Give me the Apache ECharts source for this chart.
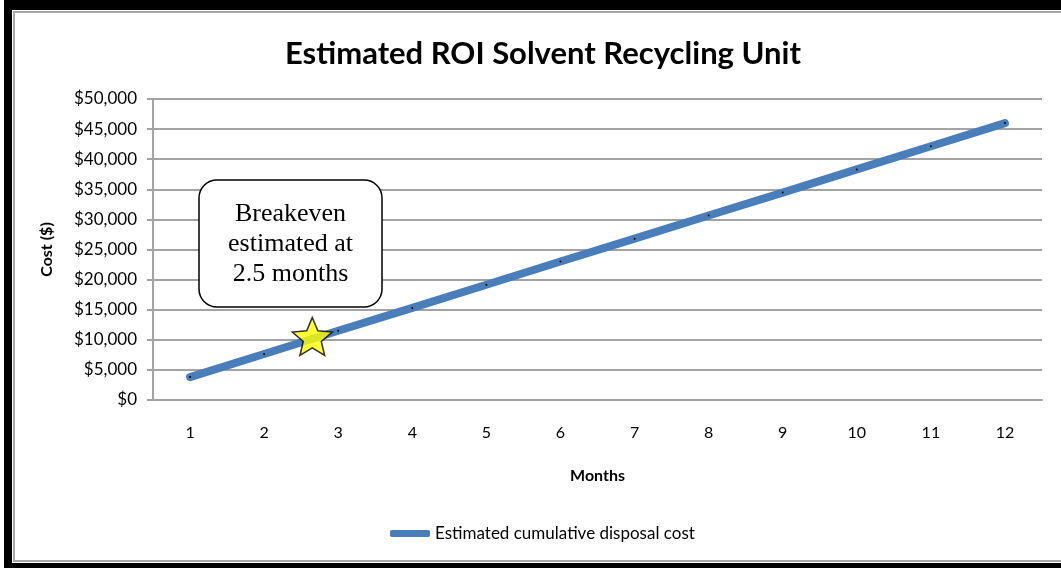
<!DOCTYPE html>
<html>
<head>
<meta charset="utf-8">
<script src="https://cdn.jsdelivr.net/npm/echarts@6/dist/echarts.min.js"></script>
<style>
html,body{margin:0;padding:0;background:#fff;}
#main{width:1061px;height:568px;}
</style>
</head>
<body>
<div id="main"></div>
<script>
// 月份和累计费用
var months = ['1','2','3','4','5','6','7','8','9','10','11','12'];
var costValues = [3800, 7650, 11500, 15300, 19150, 23000, 26800, 30650, 34450, 38300, 42150, 46000];
var yTicks = [0, 5000, 10000, 15000, 20000, 25000, 30000, 35000, 40000, 45000, 50000];
// 盈亏平衡点（月份位置, 金额）
var breakevenPoint = [2.65, 10550];
var noteLines = ['Breakeven', 'estimated at', '2.5 months'];

var starPath = 'path://M100,0 L126.5,63.6 L195.1,69.1 L142.8,113.9 L158.8,180.9 L100,145 L41.2,180.9 L57.2,113.9 L4.9,69.1 L73.5,63.6 Z';
var gridGray = '#a3a3a3';
var sans = 'Lato';

/*格式化金额*/
function fmoney(v){
    return '$' + String(v).replace(/\B(?=(\d{3})+(?!\d))/g, ',');
}

var myChart = echarts.init(document.getElementById('main'));
var option = {
    animation: false,
    backgroundColor: '#fff',
    title: {
        text: 'Estimated ROI Solvent Recycling Unit',
        left: 280,
        top: 33,
        textStyle: {fontFamily: sans, fontWeight: 'bold', fontSize: 31, color: '#000'}
    },
    legend: {
        data: ['Estimated cumulative disposal cost'],
        left: 385,
        top: 520,
        icon: 'roundRect',
        itemWidth: 40,
        itemHeight: 7,
        itemStyle: {color: '#4a7ebb'},
        textStyle: {fontFamily: sans, fontSize: 17, color: '#000'}
    },
    grid: {left: 153, right: 19, top: 99, bottom: 168},
    xAxis: [
        {
            type: 'category',
            data: months,
            boundaryGap: true,
            name: 'Months',
            nameLocation: 'middle',
            nameGap: 68,
            nameTextStyle: {fontFamily: sans, fontWeight: 'bold', fontSize: 16, color: '#000'},
            axisLine: {show: true, lineStyle: {color: gridGray, width: 2}},
            axisTick: {show: false},
            axisLabel: {fontFamily: sans, fontSize: 16, color: '#000', margin: 25}
        },
        {
            type: 'value',
            min: 0.5,
            max: 12.5,
            show: false
        }
    ],
    yAxis: {
        type: 'value',
        min: yTicks[0],
        max: yTicks[yTicks.length - 1],
        interval: yTicks[1] - yTicks[0],
        name: 'Cost ($)',
        nameLocation: 'middle',
        nameGap: 98,
        nameTextStyle: {fontFamily: sans, fontWeight: 'bold', fontSize: 16, color: '#000'},
        axisLine: {show: true, lineStyle: {color: gridGray, width: 2}},
        axisTick: {show: true, length: 6, lineStyle: {color: gridGray, width: 2}},
        axisLabel: {fontFamily: sans, fontSize: 17, color: '#000', margin: 16, formatter: fmoney},
        splitLine: {show: true, lineStyle: {color: gridGray, width: 2}}
    },
    series: [
        {
            name: 'Estimated cumulative disposal cost',
            type: 'line',
            data: costValues,
            symbol: 'circle',
            symbolSize: 2,
            itemStyle: {color: '#000'},
            lineStyle: {color: '#4a7ebb', width: 8, cap: 'round', join: 'round'},
            z: 3
        },
        {
            name: 'breakeven',
            type: 'scatter',
            xAxisIndex: 1,
            data: [breakevenPoint],
            symbol: starPath,
            symbolSize: [40, 38],
            itemStyle: {color: '#ffff00', borderColor: '#000', borderWidth: 1.5},
            z: 5
        }
    ],
    graphic: [
        // 外框
        {type: 'rect', z: -10, silent: true, shape: {x: 4, y: -10, width: 1100, height: 578}, style: {fill: '#000'}},
        {type: 'rect', z: -9, silent: true, shape: {x: 12, y: 10, width: 1100, height: 553}, style: {fill: '#fff'}},
        {type: 'rect', z: -8, silent: true, shape: {x: 14, y: 12, width: 1100, height: 549}, style: {fill: 'none', stroke: '#a8a8a8', lineWidth: 2}},
        // 注释框
        {type: 'rect', z: 100, shape: {x: 199, y: 180, width: 183, height: 127, r: 18}, style: {fill: '#fff', stroke: '#000', lineWidth: 1.5}},
        {type: 'text', z: 101, x: 290.5, y: 244, style: {text: noteLines.join('\n'), fill: '#000', font: '26px "Liberation Serif"', align: 'center', verticalAlign: 'middle', lineHeight: 30}}
    ]
};
myChart.setOption(option);
</script>
</body>
</html>
